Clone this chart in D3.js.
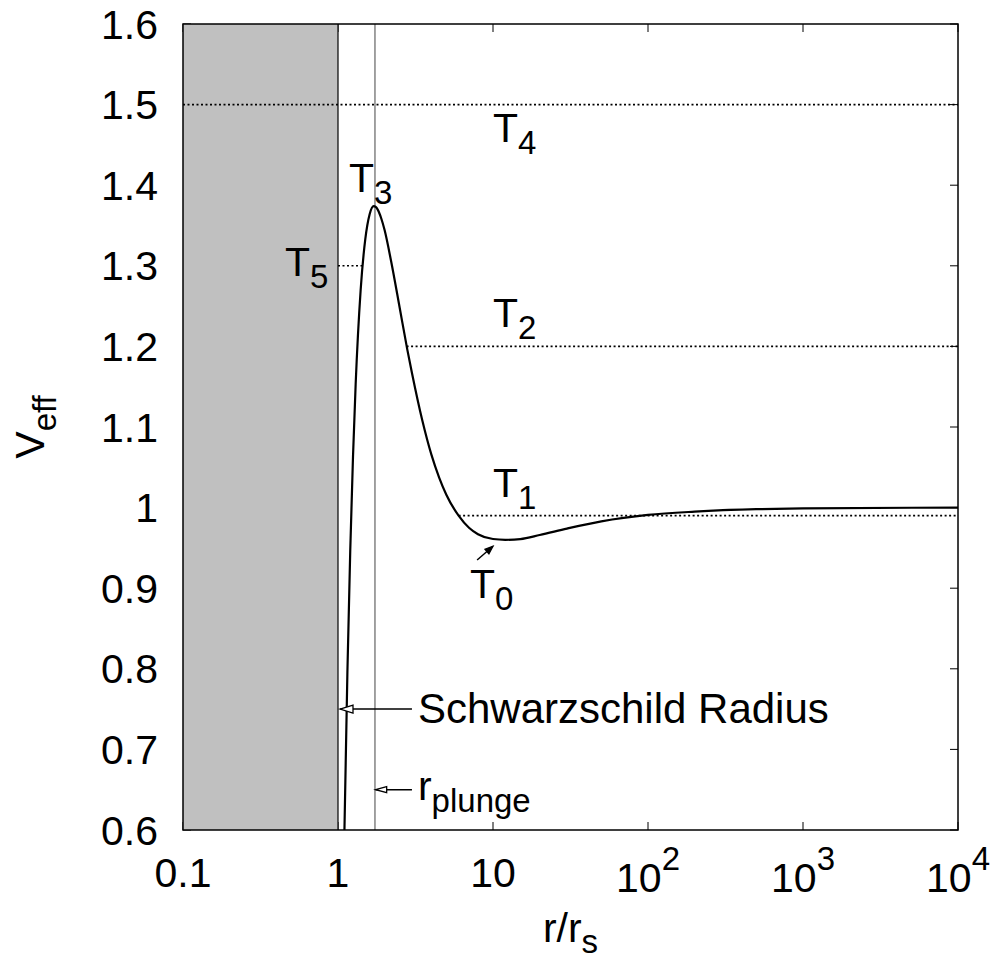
<!DOCTYPE html>
<html>
<head>
<meta charset="utf-8">
<script src="https://cdn.jsdelivr.net/npm/d3@7"></script>
<style>
  body { margin: 0; background: #fff; }
  text { font-family: "Liberation Sans", Arial, sans-serif; fill: #000; }
</style>
</head>
<body>
<div id="chart"></div>
<script>
// effective potential
const rVals = [1.1, 1.15, 1.2, 1.25, 1.3, 1.4, 1.5, 1.6, 1.7, 1.75, 1.8, 1.9, 2, 2.2, 2.5, 2.8, 3, 3.5, 4, 4.5, 5, 6, 7, 8, 10, 12, 15, 20, 30, 50, 100, 200, 500, 1000, 10000];
const vEff = [0.598, 0.796, 0.948, 1.064, 1.153, 1.270, 1.333, 1.364, 1.374, 1.373, 1.370, 1.359, 1.344, 1.306, 1.248, 1.196, 1.167, 1.108, 1.066, 1.037, 1.016, 0.990, 0.975, 0.967, 0.961, 0.960, 0.961, 0.966, 0.974, 0.983, 0.991, 0.995, 0.998, 0.999, 1.0];

// dotted energy levels
const levelNames = ["4", "5", "2", "1"];
const levelV = [1.5, 1.3, 1.2, 0.99];
const levelFrom = [0.1, 1, 2.77, 6];
const levelTo = [10000, 1.44, 10000, 10000];

// T labels: subscript, r, V (baseline)
const tNames = ["4", "3", "5", "2", "1", "0"];
const tR = [10, 1.178, 0.455, 10, 10, 7.1];
const tV = [1.4536, 1.3916, 1.2873, 1.2241, 1.0132, 0.8878];

const xTicks = [0.1, 1, 10, 100, 1000, 10000];
const xTickLabels = [["0.1", ""], ["1", ""], ["10", ""], ["10", "2"], ["10", "3"], ["10", "4"]];
const yTicks = [0.6, 0.7, 0.8, 0.9, 1.0, 1.1, 1.2, 1.3, 1.4, 1.5, 1.6];
const yTickLabels = ["0.6", "0.7", "0.8", "0.9", "1", "1.1", "1.2", "1.3", "1.4", "1.5", "1.6"];

const rSchwarzschild = 1;
const rPlunge = 1.732;

const width = 994, height = 962;
const margin = { top: 24, right: 36, bottom: 132, left: 183 };
const fs = 41, subFs = 33;

const svg = d3.select("#chart").append("svg")
    .attr("width", width)
    .attr("height", height);

const x = d3.scaleLog()
    .domain([0.1, 10000])
    .range([margin.left, width - margin.right]);

const y = d3.scaleLinear()
    .domain([0.6, 1.6])
    .range([height - margin.bottom, margin.top]);

const x0 = x.range()[0], x1 = x.range()[1];
const y0 = y.range()[0], y1 = y.range()[1];

svg.append("defs").append("clipPath")
    .attr("id", "clip")
    .append("rect")
    .attr("x", x0).attr("y", y1)
    .attr("width", x1 - x0).attr("height", y0 - y1);

// ticks (inward, mirrored)
const tickLen = 8;
const tickG = svg.append("g").attr("stroke", "#000").attr("stroke-width", 1);
xTicks.forEach(t => {
  tickG.append("line").attr("x1", x(t)).attr("x2", x(t)).attr("y1", y0).attr("y2", y0 - tickLen);
  tickG.append("line").attr("x1", x(t)).attr("x2", x(t)).attr("y1", y1).attr("y2", y1 + tickLen);
});
yTicks.forEach(t => {
  tickG.append("line").attr("x1", x0).attr("x2", x0 + tickLen).attr("y1", y(t)).attr("y2", y(t));
  tickG.append("line").attr("x1", x1).attr("x2", x1 - tickLen).attr("y1", y(t)).attr("y2", y(t));
});

// region inside the horizon
svg.append("rect")
    .attr("x", x(0.1)).attr("y", y1)
    .attr("width", x(rSchwarzschild) - x(0.1))
    .attr("height", y0 - y1)
    .attr("fill", "#c0c0c0");

// vertical lines
svg.append("line")
    .attr("x1", x(rSchwarzschild)).attr("x2", x(rSchwarzschild))
    .attr("y1", y0).attr("y2", y1)
    .attr("stroke", "#000").attr("stroke-width", 1.2);
svg.append("line")
    .attr("x1", x(rPlunge)).attr("x2", x(rPlunge))
    .attr("y1", y0).attr("y2", y1)
    .attr("stroke", "#444").attr("stroke-width", 1);

// dotted levels
levelV.forEach((v, i) => {
  svg.append("line")
      .attr("x1", x(levelFrom[i])).attr("x2", x(levelTo[i]))
      .attr("y1", y(v)).attr("y2", y(v))
      .attr("stroke", "#000")
      .attr("stroke-width", 1.6)
      .attr("stroke-dasharray", "2,2.5");
});

// curve
const line = d3.line()
    .x(d => x(d[0]))
    .y(d => y(d[1]))
    .curve(d3.curveMonotoneX);

svg.append("path")
    .datum(rVals.map((r, i) => [r, vEff[i]]))
    .attr("clip-path", "url(#clip)")
    .attr("d", line)
    .attr("fill", "none")
    .attr("stroke", "#000")
    .attr("stroke-width", 2.2);

// border
svg.append("rect")
    .attr("x", x0).attr("y", y1)
    .attr("width", x1 - x0).attr("height", y0 - y1)
    .attr("fill", "none")
    .attr("stroke", "#000")
    .attr("stroke-width", 1.5);

// tick labels
yTicks.forEach((t, i) => {
  svg.append("text")
      .attr("x", x0 - 25)
      .attr("y", y(t) + 14.5)
      .attr("text-anchor", "end")
      .style("font-size", fs + "px")
      .text(yTickLabels[i]);
});
xTicks.forEach((t, i) => {
  const [base, exp] = xTickLabels[i];
  const txt = svg.append("text")
      .attr("x", x(t))
      .attr("y", exp ? y0 + 62 : y0 + 57)
      .attr("text-anchor", "middle")
      .style("font-size", fs + "px");
  txt.append("tspan").text(base);
  if (exp) {
    txt.append("tspan")
        .attr("dy", -22)
        .style("font-size", subFs + "px")
        .text(exp);
  }
});

// axis titles
const yl = svg.append("text")
    .attr("transform", `translate(44,${(y0 + y1) / 2}) rotate(-90)`)
    .attr("text-anchor", "middle")
    .style("font-size", fs + "px");
yl.append("tspan").text("V");
yl.append("tspan").attr("dy", 12).style("font-size", subFs + "px").text("eff");

const xl = svg.append("text")
    .attr("x", (x0 + x1) / 2)
    .attr("y", y0 + 112)
    .attr("text-anchor", "middle")
    .style("font-size", fs + "px");
xl.append("tspan").text("r/r");
xl.append("tspan").attr("dy", 11).style("font-size", subFs + "px").text("s");

// T labels
tNames.forEach((n, i) => {
  const t = svg.append("text")
      .attr("x", x(tR[i]))
      .attr("y", y(tV[i]))
      .style("font-size", fs + "px");
  t.append("tspan").text("T");
  t.append("tspan").attr("dy", 12).style("font-size", subFs + "px").text(n);
});

// arrows
function arrow(xa, ya, xb, yb, len, half, filled) {
  svg.append("line")
      .attr("x1", xa).attr("y1", ya).attr("x2", xb).attr("y2", yb)
      .attr("stroke", "#000").attr("stroke-width", 1.5);
  const ang = Math.atan2(yb - ya, xb - xa);
  const bx = xb - len * Math.cos(ang), by = yb - len * Math.sin(ang);
  const px = -Math.sin(ang) * half, py = Math.cos(ang) * half;
  svg.append("path")
      .attr("d", `M${xb},${yb}L${bx + px},${by + py}L${bx - px},${by - py}Z`)
      .attr("fill", filled ? "#000" : "#fff")
      .attr("stroke", "#000")
      .attr("stroke-width", 1.3);
}

arrow(x(3.0), y(0.75), x(rSchwarzschild) + 2, y(0.75), 13, 4, false);
arrow(x(3.0), y(0.65), x(1.75), y(0.65), 11, 3, false);
arrow(x(7.9), y(0.935), x(10), y(0.952), 8, 3, true);

svg.append("text")
    .attr("x", x(3.28)).attr("y", y(0.7328))
    .style("font-size", "42px")
    .text("Schwarzschild Radius");

const rl = svg.append("text")
    .attr("x", x(3.28)).attr("y", y(0.6372))
    .style("font-size", fs + "px");
rl.append("tspan").text("r");
rl.append("tspan").attr("dy", 12).style("font-size", subFs + "px").text("plunge");
</script>
</body>
</html>
